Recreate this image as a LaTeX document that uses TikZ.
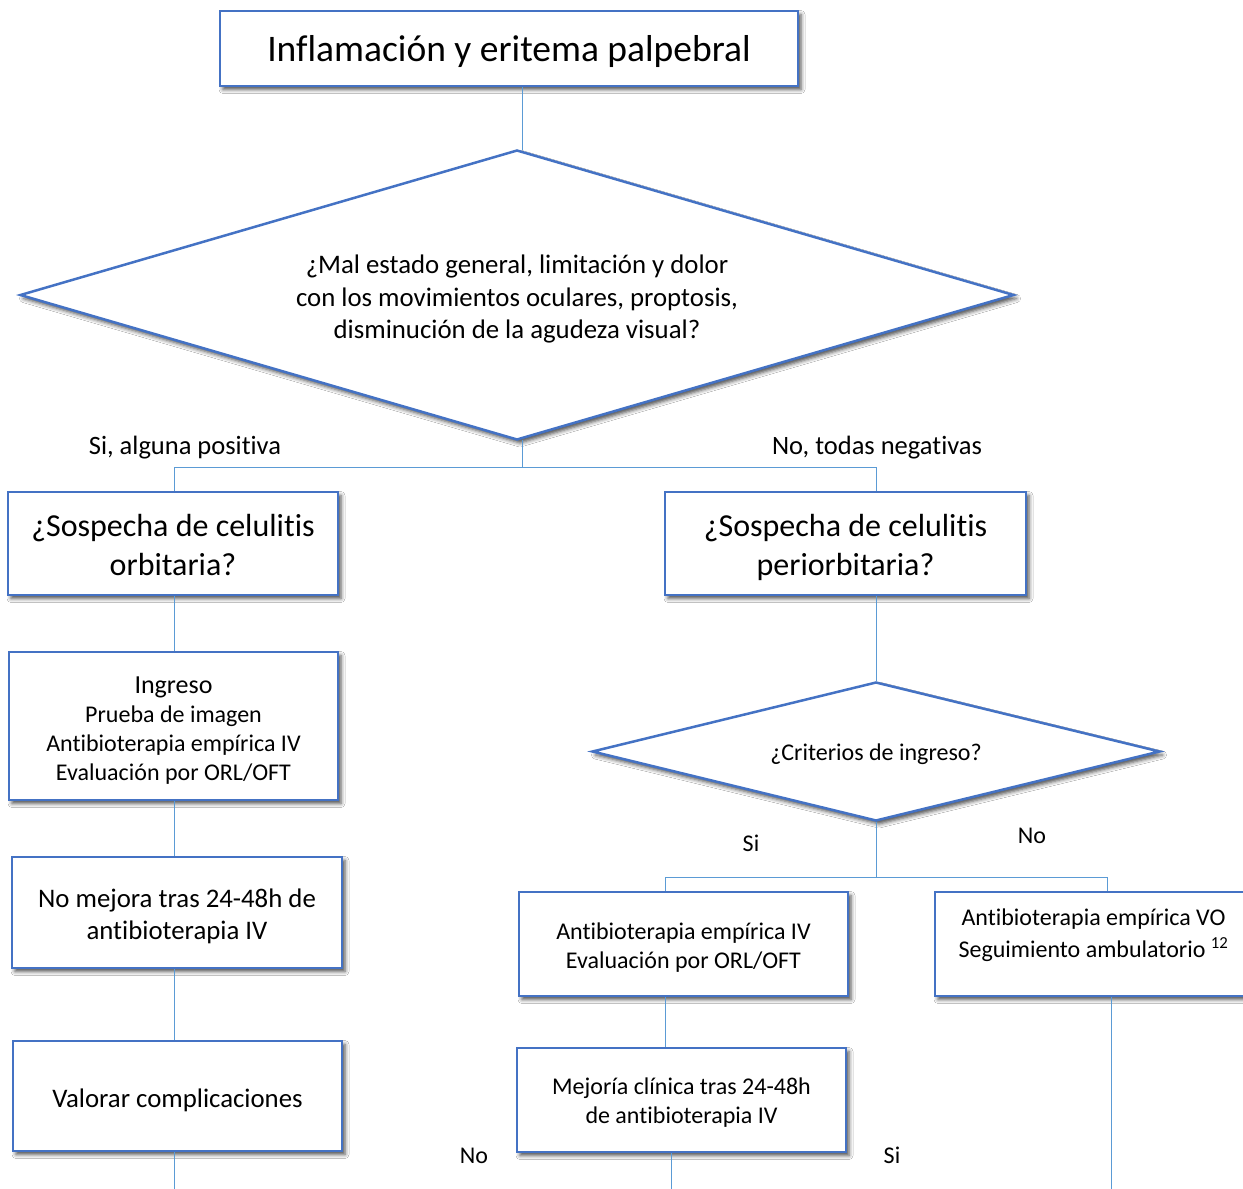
\documentclass[tikz,border=0pt]{standalone}
\usepackage{fontspec}
\setmainfont{Carlito}[Ligatures=NoCommon]
\usetikzlibrary{shapes.geometric,shadows.blur}
\definecolor{boxblue}{HTML}{4472C4}
\definecolor{lineblue}{HTML}{5B9BD5}
\begin{document}
\begin{tikzpicture}[x=1pt,y=-1pt,
  shad/.style={blur shadow={shadow xshift=3pt, shadow yshift=-3.5pt, shadow blur radius=4pt, shadow opacity=70}},
  box/.style={draw=boxblue, line width=2.5pt, fill=white, rectangle, inner sep=0pt, shad},
  dia/.style={draw=boxblue, line width=2.5pt, fill=white, diamond, inner sep=0pt, shad},
  txt/.style={inner sep=0pt, align=center},
  conn/.style={draw=lineblue, line width=1pt},
  lbl/.style={inner sep=0pt, font=\fontsize{24}{29}\selectfont},
  big/.style={font=\fontsize{26.8}{32}\selectfont},
  mid/.style={font=\fontsize{24}{29}\selectfont}]
\useasboundingbox (0,0) rectangle (1243,1189);
\fill[white] (0,0) rectangle (1243,1189);

% shapes
\node[box, minimum width=578pt, minimum height=75pt] (top) at (509,48.5) {};
\node[dia, aspect=3.43, minimum width=994pt, minimum height=290pt] (d1) at (517,295) {};
\node[box, minimum width=330pt, minimum height=103pt] (b1) at (173,543.5) {};
\node[box, minimum width=361pt, minimum height=103pt] (b2) at (845.5,543.5) {};
\node[box, minimum width=329pt, minimum height=148pt] (b3) at (173.5,726) {};
\node[box, minimum width=330pt, minimum height=111pt] (b4) at (177,912.5) {};
\node[box, minimum width=329pt, minimum height=110pt] (b9) at (177.5,1096) {};
\node[dia, aspect=4.09, minimum width=568pt, minimum height=139pt] (d2) at (876,751.5) {};
\node[box, minimum width=329pt, minimum height=104pt] (b6) at (683.5,944) {};
\node[box, minimum width=317pt, minimum height=104pt] (b7) at (1093.5,944) {};
\node[box, minimum width=329pt, minimum height=104pt] (b8) at (681.5,1100) {};

% texts
\node[txt, font=\fontsize{37.5}{45}\selectfont] (ttop) at ([yshift=-3pt]top.center) {Inflamación y eritema palpebral};
\node[txt, font=\fontsize{26.8}{32.5}\selectfont] (td1) at ([yshift=-4pt]d1.center) {¿Mal estado general, limitación y dolor\\con los movimientos oculares, proptosis,\\disminución de la agudeza visual?};
\node[txt, font=\fontsize{32}{39}\selectfont] (tb1) at ([yshift=-1.5pt]b1.center) {¿Sospecha de celulitis\\orbitaria?};
\node[txt, font=\fontsize{32}{39}\selectfont] (tb2) at ([yshift=-4pt]b2.center) {¿Sospecha de celulitis\\periorbitaria?};
\node[txt, mid] (tb3) at ([yshift=-4.5pt]b3.center) {{\fontsize{26}{30}\selectfont Ingreso}\\Prueba de imagen\\Antibioterapia empírica IV\\Evaluación por ORL/OFT};
\node[txt, big] (tb4) at ([yshift=-4pt]b4.center) {No mejora tras 24-48h de\\antibioterapia IV};
\node[txt, big] (tb9) at ([yshift=-4.5pt]b9.center) {Valorar complicaciones};
\node[txt, mid] (td2) at ([yshift=-3pt]d2.center) {¿Criterios de ingreso?};
\node[txt, mid] (tb6) at ([yshift=-4pt]b6.center) {Antibioterapia empírica IV\\Evaluación por ORL/OFT};
\node[txt, font=\fontsize{24}{32}\selectfont] (tb7) at ([yshift=9pt]b7.center) {Antibioterapia empírica VO\\Seguimiento ambulatorio \textsuperscript{12}};
\node[txt, mid] (tb8) at ([yshift=-3pt]b8.center) {Mejoría clínica tras 24-48h\\de antibioterapia IV};

% labels
\node[lbl, font=\fontsize{26.5}{30}\selectfont] (l1) at (185,448) {Si, alguna positiva};
\node[lbl, font=\fontsize{26.5}{30}\selectfont] (l2) at (877,448) {No, todas negativas};
\node[lbl] (l3) at (751,843) {Si};
\node[lbl] (l4) at (1032,836) {No};
\node[lbl] (l5) at (474,1156) {No};
\node[lbl] (l6) at (892,1155) {Si};

% connectors
\coordinate (j1) at (522,467);
\coordinate (j2) at (876,877);
\coordinate (e1) at (174,1189);
\coordinate (e2) at (671,1189);
\coordinate (e3) at (1111,1189);
\draw[conn] ([xshift=5pt]d1.north |- top.south) -- ([xshift=5pt,yshift=-1.5pt]d1.north);
\draw[conn] ([xshift=5pt,yshift=1.5pt]d1.south) -- (j1);
\draw[conn] (j1) -| (e1 |- b1.north);
\draw[conn] (j1) -| (d2.north |- b2.north);
\draw[conn] (e1 |- b1.south) -- (e1 |- b3.north);
\draw[conn] (e1 |- b3.south) -- (e1 |- b4.north);
\draw[conn] (e1 |- b4.south) -- (e1 |- b9.north);
\draw[conn] (e1 |- b9.south) -- (e1);
\draw[conn] (d2.north |- b2.south) -- (d2.north);
\draw[conn] (d2.south) -- (j2);
\draw[conn] (j2) -| ([xshift=-18.5pt]b6.north);
\draw[conn] (j2) -| ([xshift=13.5pt]b7.north);
\draw[conn] ([xshift=-18.5pt]b6.south) -- ([xshift=-18.5pt]b6.south |- b8.north);
\draw[conn] (e2 |- b8.south) -- (e2);
\draw[conn] (e3 |- b7.south) -- (e3);
\end{tikzpicture}
\end{document}
